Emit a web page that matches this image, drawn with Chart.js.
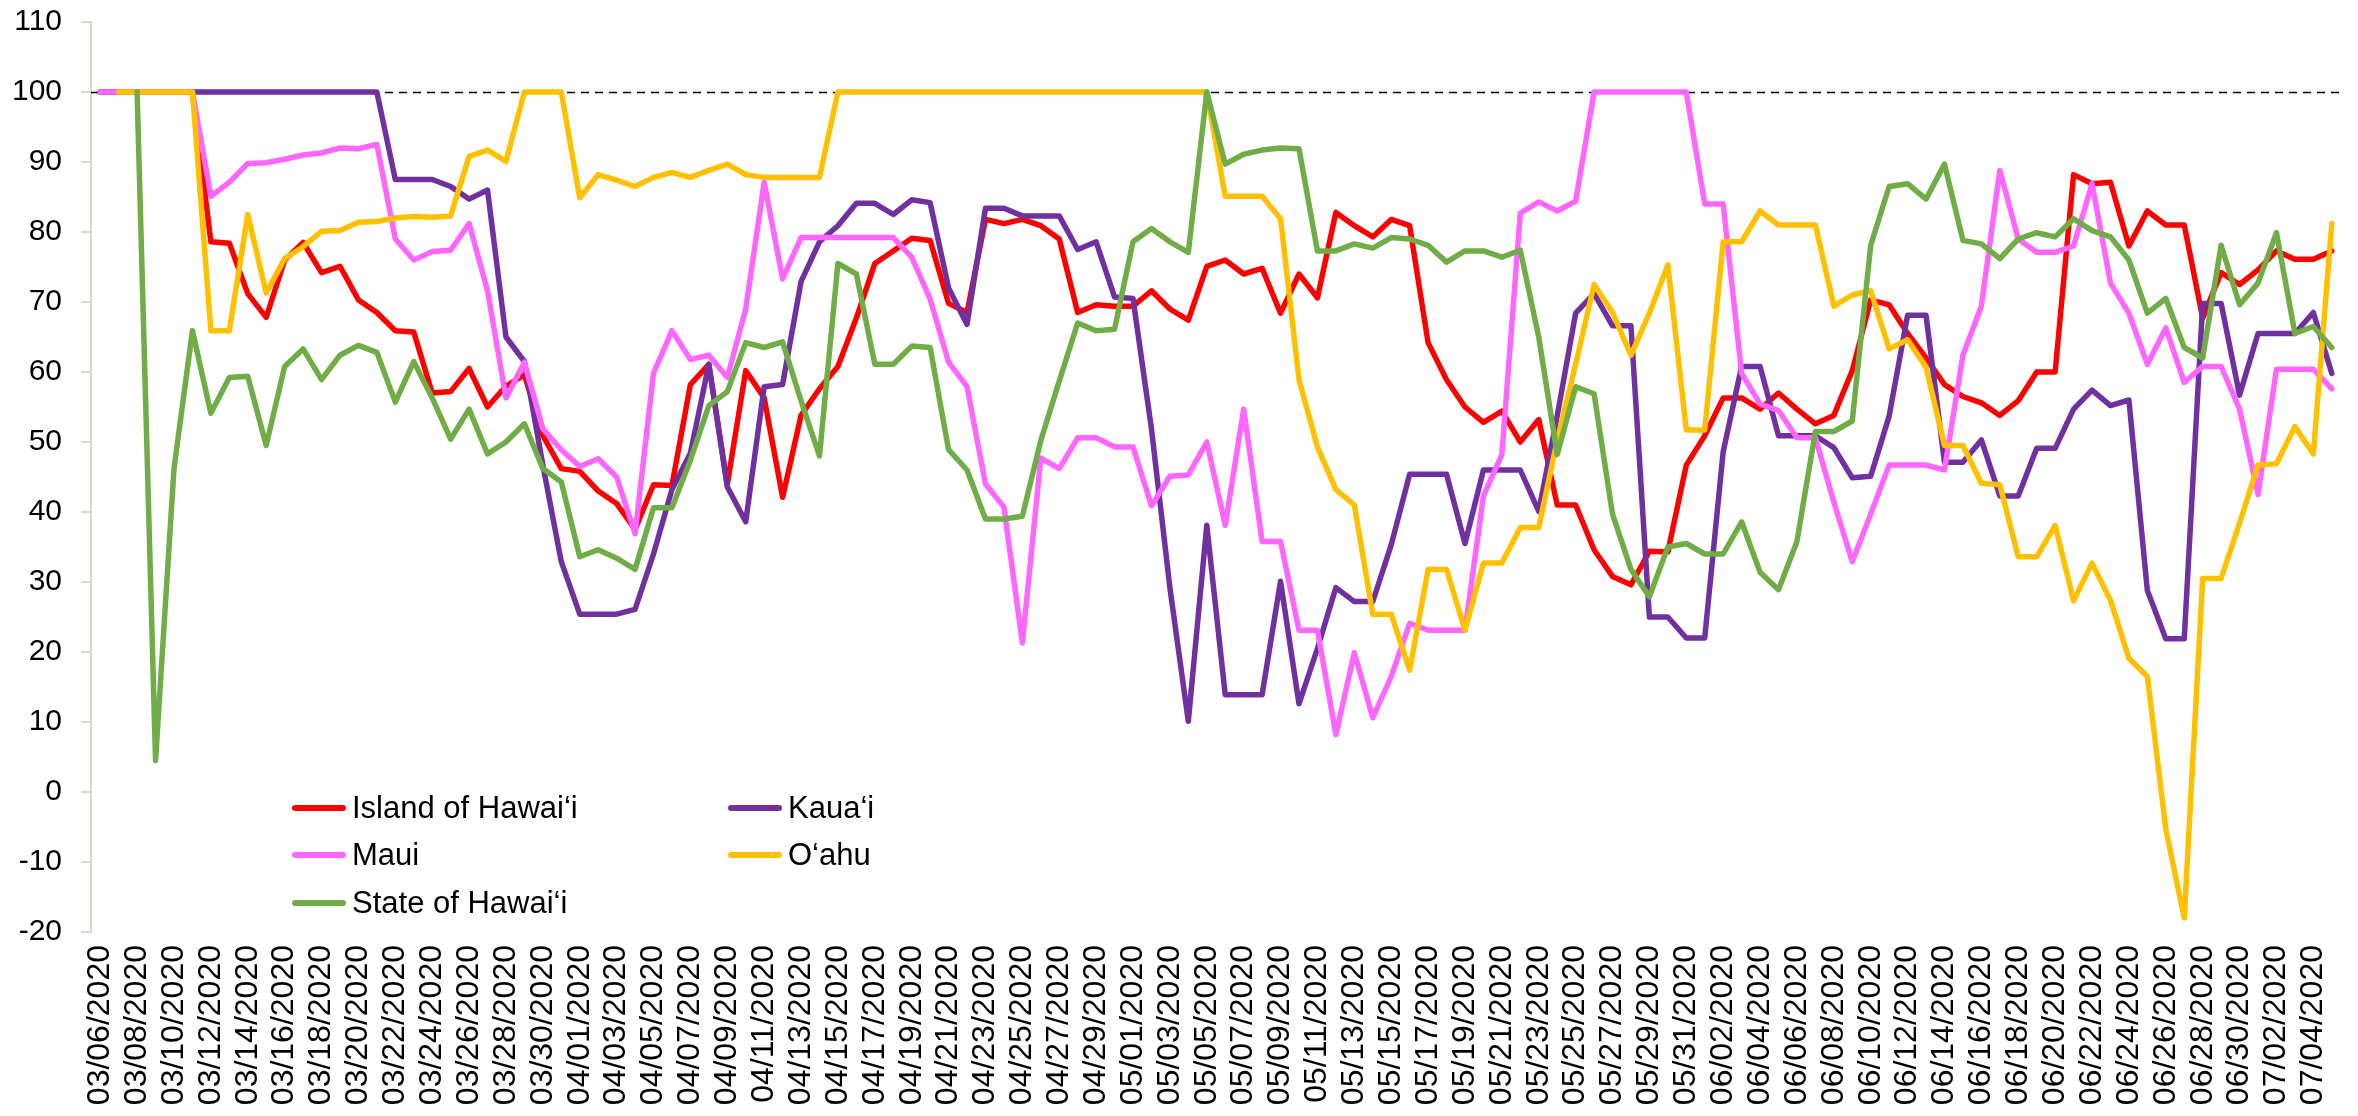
<!DOCTYPE html>
<html>
<head>
<meta charset="utf-8">
<script src="https://cdn.jsdelivr.net/npm/chart.js@4.4.0/dist/chart.umd.min.js"></script>
<style>
  html, body { margin: 0; padding: 0; background: #fff; }
  #wrap { position: relative; width: 2358px; height: 1116px; }
  .item { position: absolute; display: flex; align-items: center; white-space: nowrap;
          font: 31px 'Liberation Sans', Arial, sans-serif; color: #000; line-height: 36px; }
  .swatch { width: 54px; height: 6px; border-radius: 3px; margin-right: 6px; }
</style>
</head>
<body>
<div id="wrap">
  <canvas id="myChart"></canvas>
  <div id="legend"></div>
</div>
<script>
// dates 03/06/2020 .. 07/05/2020
const labels = [];
const start = new Date(2020, 2, 6);
for (let i = 0; i < 122; i++) {
  const d = new Date(start.getFullYear(), start.getMonth(), start.getDate() + i);
  const mm = String(d.getMonth() + 1).padStart(2, '0');
  const dd = String(d.getDate()).padStart(2, '0');
  labels.push(`${mm}/${dd}/2020`);
}

const yTicks = { min: -20, max: 110, step: 10 };
const REFERENCE = 100;

const island = [100, 100, 100, 100, 100, 100, 78.6, 78.4, 71.2, 67.8, 76, 78.5, 74.2, 75.1, 70.3, 68.5,
  65.9, 65.7, 57, 57.2, 60.5, 55, 58, 59.6, 50.9, 46.2, 45.8, 43, 41.2, 37.5, 43.9, 43.8, 58.2, 61.1,
  43.9, 60.2, 56.3, 42.1, 53.8, 57.6, 60.8, 67.7, 75.5, 77.3, 79.1, 78.8, 69.8, 68.5, 81.8, 81.2, 81.8,
  80.9, 79, 68.5, 69.6, 69.4, 69.4, 71.6, 69, 67.4, 75.1, 76, 74, 74.8, 68.4, 74, 70.6, 82.8, 80.9,
  79.3, 81.8, 80.9, 64.2, 58.9, 55, 52.8, 54.4, 50, 53.2, 41, 41, 34.6, 30.8, 29.6, 34.4, 34.3, 46.7,
  50.9, 56.3, 56.3, 54.7, 57, 54.7, 52.6, 53.8, 60.2, 70.3, 69.6, 65.5, 62, 58.2, 56.5, 55.6, 53.8,
  55.9, 60, 60, 88.2, 86.9, 87.1, 78, 83, 81, 81, 67.7, 74.2, 72.5, 74.6, 77.3, 76.1, 76.1, 77.3];

const kauai = [100, 100, 100, 100, 100, 100, 100, 100, 100, 100, 100, 100, 100, 100, 100, 100,
  87.5, 87.5, 87.5, 86.5, 84.7, 86, 65, 61.5, 46.7, 32.9, 25.4, 25.4, 25.4, 26.1, 34, 43.2, 48.4, 61.1,
  43.6, 38.6, 57.9, 58.2, 72.9, 78.6, 80.9, 84.1, 84.1, 82.5, 84.6, 84.2, 72, 66.8, 83.4, 83.4, 82.3,
  82.3, 82.3, 77.5, 78.6, 70.7, 70.5, 51.9, 29.2, 10.1, 38.1, 13.9, 13.9, 13.9, 30.1, 12.6, 20.5, 29.2,
  27.2, 27.2, 35.3, 45.4, 45.4, 45.4, 35.5, 46, 46, 46, 40.1, 53.7, 68.4, 71.2, 66.6, 66.6, 25, 25, 22,
  22, 48.6, 60.8, 60.8, 50.9, 50.9, 50.9, 49.2, 44.9, 45.1, 53.7, 68.1, 68.1, 47.1, 47.1, 50.3, 42.3,
  42.3, 49.1, 49.1, 54.7, 57.4, 55.2, 56, 28.8, 21.9, 21.9, 69.8, 69.8, 56.7, 65.5, 65.5, 65.5, 68.5, 59.8];

const maui = [100, 100, 100, 100, 100, 100, 85.1, 87.1, 89.8, 89.9, 90.4, 91, 91.3, 92, 91.9, 92.5,
  79, 76, 77.2, 77.4, 81.2, 71.6, 56.3, 61.4, 51.9, 48.9, 46.5, 47.6, 45, 36.9, 59.8, 65.9, 61.8, 62.4,
  59.2, 69, 87.1, 73.3, 79.2, 79.2, 79.2, 79.2, 79.2, 79.2, 76.4, 70.4, 61.4, 57.9, 44, 40.7, 21.3,
  47.7, 46.2, 50.6, 50.6, 49.3, 49.3, 40.9, 45.1, 45.3, 50, 38.1, 54.7, 35.8, 35.8, 23.1, 23.1, 8.2,
  19.9, 10.6, 16.5, 24.1, 23.1, 23.1, 23.1, 42.3, 48.2, 82.7, 84.3, 83, 84.4, 100, 100, 100, 100, 100,
  100, 84, 84, 59.8, 55.4, 54.5, 50.6, 50.6, 41.4, 32.9, 39.7, 46.7, 46.7, 46.7, 46, 62.4, 69.4, 88.8,
  79, 77.1, 77.1, 78, 86.9, 72.7, 68.4, 61.1, 66.3, 58.5, 60.8, 60.8, 54.7, 42.5, 60.4, 60.4, 60.4, 57.6];

const oahu = [null, 100, 100, 100, 100, 100, 65.9, 65.9, 82.5, 71.3, 76.2, 77.9, 80.1, 80.2, 81.4, 81.5,
  82, 82.2, 82.1, 82.3, 90.8, 91.7, 90.1, 100, 100, 100, 84.9, 88.2, 87.4, 86.5, 87.8, 88.5, 87.8, 88.8,
  89.7, 88.2, 87.8, 87.8, 87.8, 87.8, 100, 100, 100, 100, 100, 100, 100, 100, 100, 100, 100, 100, 100,
  100, 100, 100, 100, 100, 100, 100, 100, 85.1, 85.1, 85.1, 81.9, 58.9, 49.3, 43.2, 41, 25.4, 25.4,
  17.4, 31.8, 31.8, 23.1, 32.7, 32.7, 37.8, 37.8, 50.2, 61.1, 72.5, 68.5, 62.4, 68.4, 75.3, 51.7, 51.7,
  78.6, 78.6, 83, 81, 81, 81, 69.4, 71, 71.6, 63.3, 64.6, 60.7, 49.5, 49.5, 44.1, 43.9, 33.6, 33.6,
  38.1, 27.3, 32.7, 27.4, 19.1, 16.5, -5.3, -18, 30.5, 30.5, 38.4, 46.7, 46.9, 52.2, 48.3, 81.2];

const state = [null, null, 100, 4.5, 46.2, 65.9, 54.1, 59.2, 59.4, 49.5, 60.8, 63.3, 58.9, 62.4, 63.8,
  62.8, 55.7, 61.5, 56.3, 50.4, 54.7, 48.3, 50, 52.6, 46.2, 44.3, 33.6, 34.6, 33.4, 31.8, 40.6, 40.6,
  47.4, 55.2, 57.2, 64.2, 63.5, 64.3, 55.9, 48, 75.5, 74, 61.1, 61.1, 63.7, 63.5, 48.9, 46, 39, 39,
  39.4, 50.2, 58.7, 67, 65.9, 66.1, 78.6, 80.5, 78.6, 77.1, 100, 89.7, 91.1, 91.7, 92, 91.9, 77.3, 77.3,
  78.3, 77.7, 79.2, 79, 78.1, 75.7, 77.3, 77.3, 76.4, 77.4, 65, 48.2, 57.9, 56.9, 39.7, 31.8, 27.9, 35,
  35.5, 34, 34, 38.6, 31.4, 28.9, 35.8, 51.5, 51.5, 53, 78.1, 86.5, 86.9, 84.7, 89.7, 78.8, 78.3, 76.2,
  79, 79.9, 79.3, 81.9, 80.2, 79.3, 76, 68.4, 70.5, 63.5, 62, 78.1, 69.6, 72.7, 79.9, 65.5, 66.5, 63.5];

const seriesNames = ['Island of Hawai\u2018i', 'Kaua\u2018i', 'Maui', 'O\u2018ahu', 'State of Hawai\u2018i'];
const seriesColors = ['#ff0000', '#7030a0', '#ff66ff', '#ffc000', '#70ad47'];
const seriesData = [island, kauai, maui, oahu, state];

const font = "'Liberation Sans', Arial, sans-serif";
const axisColor = '#dcd8c6';

// dashed line at 100
const refLine = {
  id: 'refLine',
  beforeDatasetsDraw(chart) {
    const { ctx, chartArea, scales } = chart;
    const y = Math.round(scales.y.getPixelForValue(REFERENCE)) + 0.5;
    ctx.save();
    ctx.strokeStyle = '#000';
    ctx.lineWidth = 1.5;
    ctx.setLineDash([8, 6]);
    ctx.beginPath();
    ctx.moveTo(chartArea.left, y);
    ctx.lineTo(chartArea.right, y);
    ctx.stroke();
    ctx.restore();
  },
};

const datasets = seriesNames.map((name, i) => ({
  label: name,
  data: seriesData[i],
  borderColor: seriesColors[i],
  backgroundColor: seriesColors[i],
  borderWidth: 5.5,
  pointRadius: 0,
  tension: 0,
  fill: false,
  borderJoinStyle: 'round',
  borderCapStyle: 'round',
  order: seriesNames.length - i, // last series on top like excel
}));

const config = {
  type: 'line',
  data: { labels, datasets },
  options: {
    responsive: true,
    maintainAspectRatio: false,
    animation: false,
    devicePixelRatio: 1,
    layout: { padding: { top: 22, right: 17, left: 0, bottom: 0 } },
    plugins: { legend: { display: false }, tooltip: { enabled: false } },
    scales: {
      x: {
        offset: true,
        grid: { display: false, drawTicks: false },
        border: { display: false },
        ticks: {
          autoSkip: false,
          minRotation: 90,
          maxRotation: 90,
          padding: 13,
          color: '#000',
          font: { family: font, size: 32 },
          callback: (v, i) => (i % 2 === 0 ? labels[i] : ''),
        },
        afterFit: (scale) => {
          scale.height = 184;
          scale.paddingLeft = 0;
          scale.paddingRight = 0;
        },
      },
      y: {
        min: yTicks.min,
        max: yTicks.max,
        grid: { drawOnChartArea: false, drawTicks: true, tickLength: 10, color: axisColor, lineWidth: 2 },
        border: { display: true, color: axisColor, width: 2 },
        ticks: { stepSize: yTicks.step, padding: 19, color: '#000', font: { family: font, size: 30 } },
        afterFit: (scale) => {
          scale.width = 91;
          scale.paddingTop = 0;
          scale.paddingBottom = 0;
        },
      },
    },
  },
  plugins: [refLine],
};

const myChart = new Chart(document.getElementById('myChart'), config);

// legend inside the plot, two columns like the original
const legendPos = [
  [292, 790], [728, 790],
  [292, 837], [728, 837],
  [292, 885],
];
const legendEl = document.getElementById('legend');
seriesNames.forEach((name, i) => {
  const item = document.createElement('div');
  item.className = 'item';
  item.style.left = legendPos[i][0] + 'px';
  item.style.top = legendPos[i][1] + 'px';
  item.innerHTML = `<span class="swatch" style="background:${seriesColors[i]}"></span>${name}`;
  legendEl.appendChild(item);
});
</script>
</body>
</html>
